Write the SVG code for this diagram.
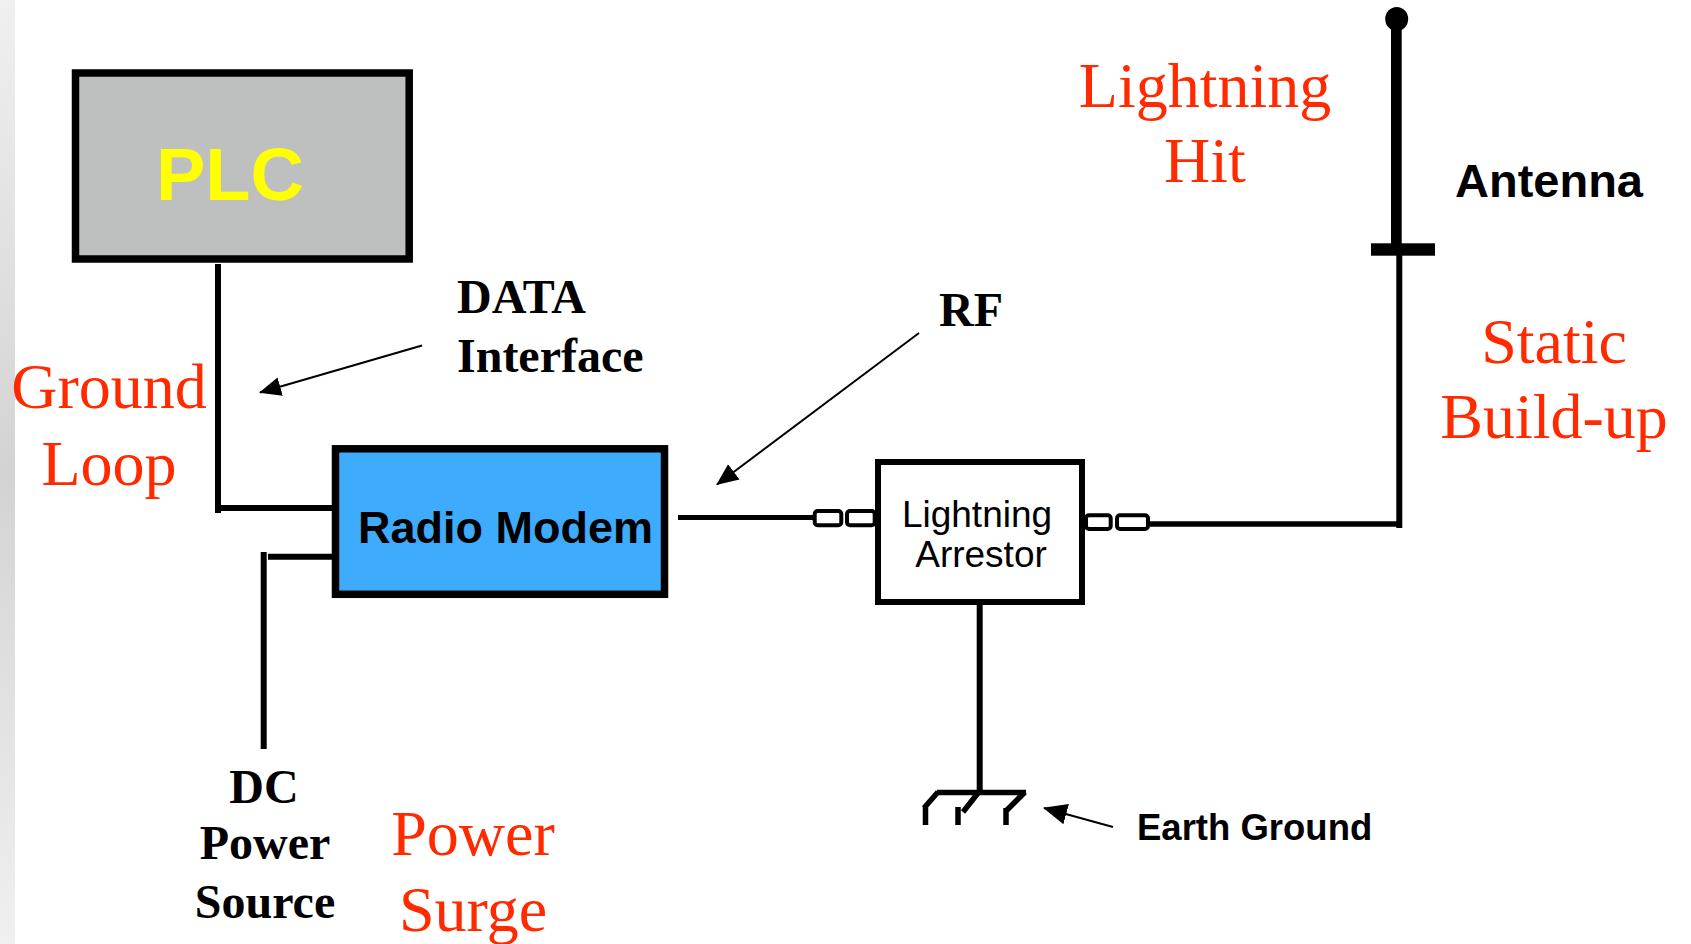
<svg xmlns="http://www.w3.org/2000/svg" width="1691" height="944" viewBox="0 0 1691 944">
<defs>
<linearGradient id="strip" x1="0" y1="0" x2="0" y2="1">
<stop offset="0" stop-color="#f0f0f0"/>
<stop offset="0.5" stop-color="#d3d3d3"/>
<stop offset="1" stop-color="#f0f0f0"/>
</linearGradient>
<marker id="ah" markerUnits="userSpaceOnUse" markerWidth="24" markerHeight="20" refX="21" refY="9.5" orient="auto">
<path d="M0,0 L22,9.5 L0,19 z" fill="#000"/>
</marker>
<marker id="ahBig" markerUnits="userSpaceOnUse" markerWidth="26" markerHeight="22" refX="23" refY="10.5" orient="auto">
<path d="M0,0 L24,10.5 L0,21 z" fill="#000"/>
</marker>
<style>
.red{font-family:"Liberation Serif","Times New Roman",serif;font-size:64px;fill:#ff2a00;text-anchor:middle}
.lbl{font-family:"Liberation Serif","Times New Roman",serif;font-size:48px;font-weight:bold;fill:#000}
.sansb{font-family:"Liberation Sans",Arial,sans-serif;font-weight:bold;fill:#000}
.sans{font-family:"Liberation Sans",Arial,sans-serif;fill:#000}
.wire{stroke:#000;fill:none;stroke-linecap:butt}
.conn{fill:#fff;stroke:#000;stroke-width:4}
.ptr{stroke:#000;stroke-width:2;fill:none}
</style>
</defs>
<rect x="0" y="0" width="1691" height="944" fill="#fff"/>
<rect x="0" y="0" width="15" height="944" fill="url(#strip)"/>

<g id="connectors">
<path class="wire" stroke-width="6" d="M218,264 V513 M215,508 H332"/>
<path class="wire" stroke-width="6" d="M263.7,552 V749 M268,556.7 H332"/>
<path class="wire" stroke-width="5" d="M678,517.5 H813"/>
<path class="wire" stroke-width="5.5" d="M1150,524 H1402"/>
<path class="wire" stroke-width="6" d="M1399.3,255 V528"/>
<path class="wire" stroke-width="6" d="M979.7,605 V793"/>
<line class="ptr" x1="422" y1="345.5" x2="260" y2="392.5" marker-end="url(#ah)"/>
<line class="ptr" x1="919" y1="333" x2="717" y2="484.5" marker-end="url(#ah)"/>
<line class="ptr" stroke-width="4" x1="1113" y1="827" x2="1044" y2="808" marker-end="url(#ahBig)"/>
</g>

<g id="plc">
<rect x="75.5" y="73" width="333.7" height="186" fill="#bec0bf" stroke="#000" stroke-width="7.5"/>
<text class="sansb" x="230" y="200" font-size="74" style="fill:#ffff00" text-anchor="middle">PLC</text>
</g>

<g id="radio-modem">
<rect x="335.5" y="448.8" width="329" height="145.5" fill="#3fabfd" stroke="#000" stroke-width="7.5"/>
<text class="sansb" x="358" y="543" font-size="45">Radio Modem</text>
</g>

<g id="lightning-arrestor">
<rect x="814.7" y="511" width="26.6" height="14.3" rx="3" class="conn"/>
<rect x="847" y="511" width="27.7" height="14.3" rx="3" class="conn"/>
<rect x="1086" y="515.3" width="24.7" height="13.7" rx="3" class="conn"/>
<rect x="1117" y="515.3" width="31" height="13.7" rx="3" class="conn"/>
<rect x="878" y="462" width="204" height="140" fill="#fff" stroke="#000" stroke-width="6"/>
<text class="sans" x="977" y="527" font-size="37" text-anchor="middle">Lightning</text>
<text class="sans" x="981" y="567" font-size="37" text-anchor="middle">Arrestor</text>
</g>

<g id="antenna">
<ellipse cx="1396.7" cy="19" rx="11.5" ry="12" fill="#000"/>
<rect x="1391" y="22" width="10.7" height="223" fill="#000"/>
<rect x="1371" y="243.3" width="64" height="12.4" fill="#000"/>
<text class="sansb" x="1455" y="197" font-size="47">Antenna</text>
</g>

<g id="earth-ground">
<path class="wire" stroke-width="5.5" d="M937,792.5 H1026 M938,792 L924,808 M925.5,807 V825 M978,793 L963,812 M958,807 V825 M1025,792 L1006,811 M1006,808 V825"/>
<text class="sansb" x="1137" y="840" font-size="36.5">Earth Ground</text>
</g>

<g id="labels">
<text class="lbl" x="457" y="313">DATA</text>
<text class="lbl" x="457" y="371.7">Interface</text>
<text class="lbl" x="939" y="326">RF</text>
<text class="lbl" x="264" y="803" text-anchor="middle">DC</text>
<text class="lbl" x="265" y="859" text-anchor="middle">Power</text>
<text class="lbl" x="265" y="918" text-anchor="middle">Source</text>
<text class="red" x="109" y="408">Ground</text>
<text class="red" x="109" y="485">Loop</text>
<text class="red" x="1205" y="106.7">Lightning</text>
<text class="red" x="1205" y="181.7">Hit</text>
<text class="red" x="1554" y="362.7">Static</text>
<text class="red" x="1554" y="438">Build-up</text>
<text class="red" x="473" y="854.7">Power</text>
<text class="red" x="473" y="931">Surge</text>
</g>
</svg>
